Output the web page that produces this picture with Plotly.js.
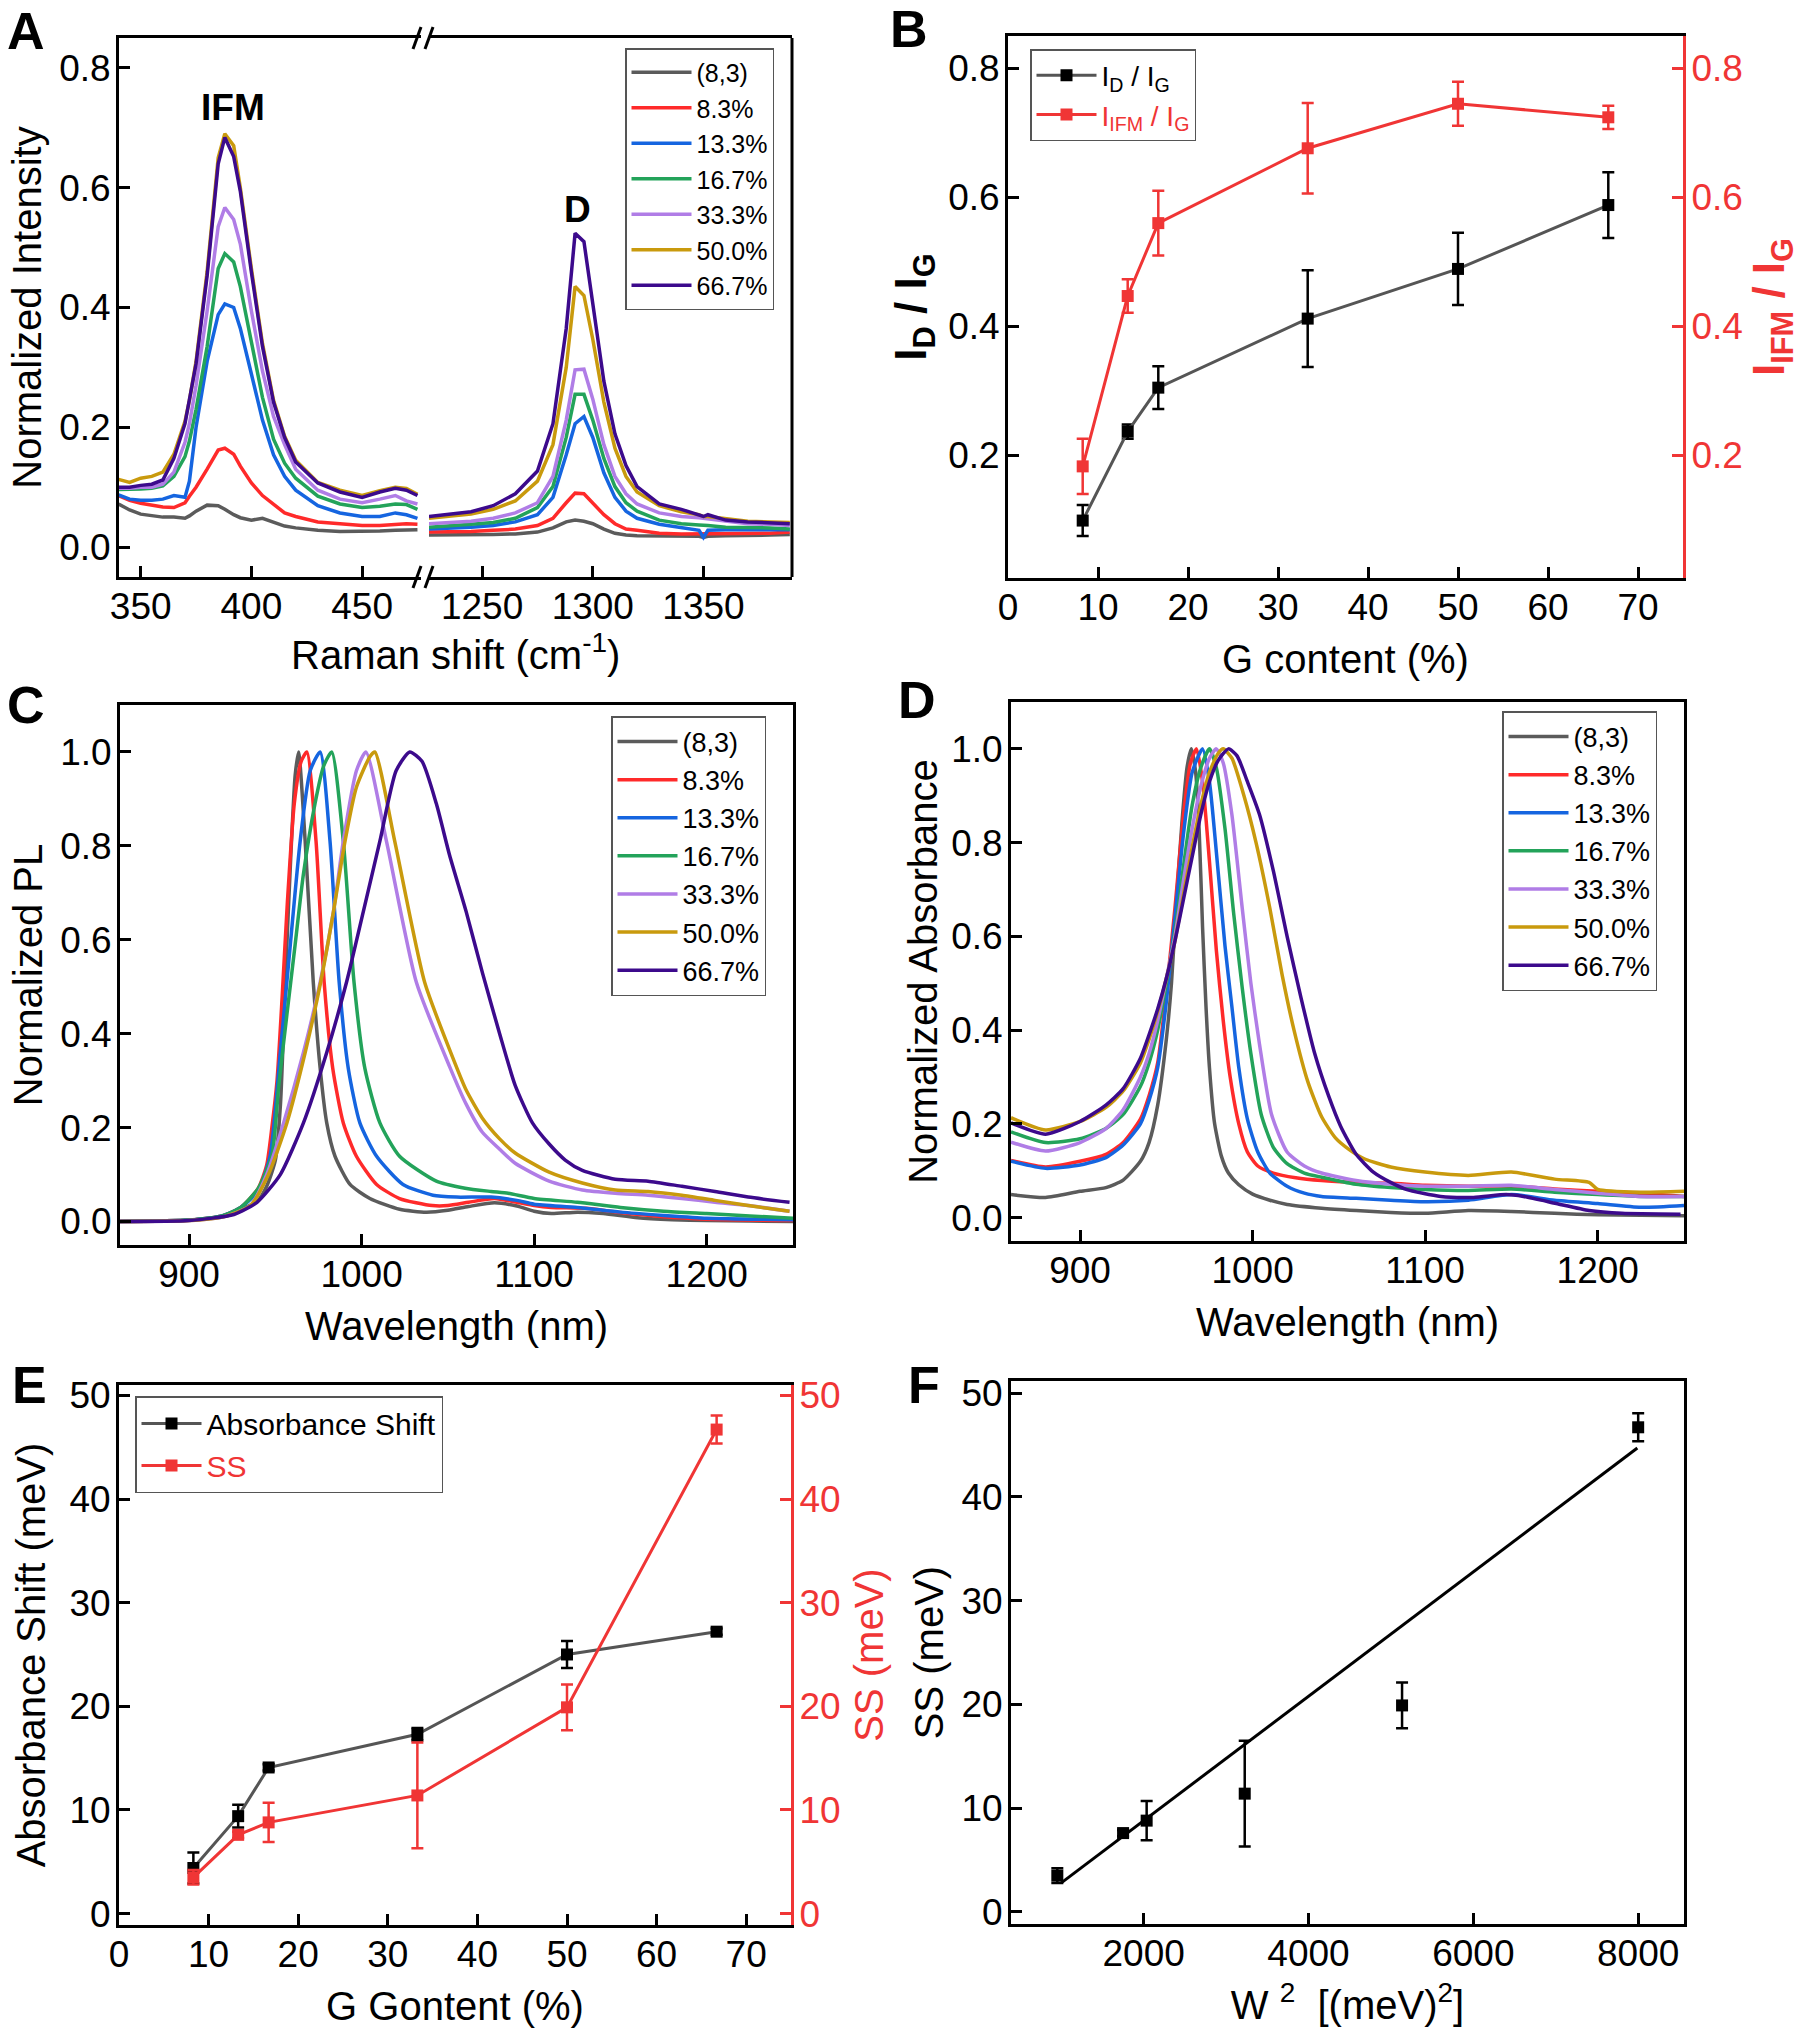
<!DOCTYPE html>
<html><head><meta charset="utf-8">
<script src="https://cdn.plot.ly/plotly-3.0.1.min.js"></script>
<style>html,body{margin:0;padding:0;background:#fff}</style>
</head><body><div id="chart" style="width:1800px;height:2032px"></div>
<script>
// ================= DATA =================
const sampleNames = ['(8,3)','8.3%','13.3%','16.7%','33.3%','50.0%','66.7%'];

// Panel A: Raman (low-frequency IFM region)
const ramanLowX = [340,345,350,355,360,365,370,372,375,380,385,388,392,395,400,405,410,415,420,430,440,450,458,465,470,475];
const ramanLow_83  = [0.072,0.062,0.055,0.052,0.050,0.050,0.048,0.052,0.060,0.070,0.069,0.063,0.054,0.049,0.045,0.048,0.042,0.035,0.032,0.028,0.026,0.026,0.027,0.028,0.028,0.029];
const ramanLow_p8  = [0.086,0.078,0.073,0.070,0.067,0.066,0.074,0.085,0.100,0.130,0.162,0.165,0.155,0.135,0.107,0.086,0.072,0.057,0.051,0.042,0.039,0.036,0.036,0.038,0.039,0.038];
const ramanLow_p13 = [0.087,0.080,0.078,0.078,0.080,0.086,0.083,0.110,0.200,0.310,0.388,0.406,0.400,0.365,0.289,0.212,0.154,0.118,0.095,0.069,0.057,0.051,0.051,0.057,0.054,0.048];
const ramanLow_p17 = [0.096,0.096,0.097,0.098,0.102,0.118,0.151,0.177,0.230,0.335,0.465,0.490,0.476,0.435,0.341,0.250,0.180,0.140,0.115,0.085,0.072,0.066,0.068,0.072,0.071,0.063];
const ramanLow_p33 = [0.098,0.098,0.100,0.100,0.105,0.125,0.175,0.206,0.270,0.394,0.535,0.567,0.547,0.506,0.394,0.294,0.218,0.171,0.130,0.095,0.080,0.074,0.080,0.086,0.077,0.072];
const ramanLow_p50 = [0.113,0.108,0.115,0.118,0.125,0.155,0.210,0.245,0.310,0.460,0.650,0.690,0.670,0.600,0.465,0.340,0.245,0.185,0.145,0.108,0.095,0.086,0.094,0.100,0.098,0.088];
const ramanLow_p67 = [0.100,0.100,0.103,0.105,0.112,0.148,0.206,0.245,0.306,0.453,0.640,0.684,0.652,0.594,0.459,0.335,0.242,0.183,0.142,0.107,0.092,0.083,0.092,0.098,0.095,0.086];

// Panel A: Raman (D band region)
const ramanHighX = [1226,1235,1245,1255,1265,1275,1282,1288,1292,1296,1300,1305,1310,1315,1320,1330,1340,1348,1350,1352,1360,1370,1380,1389];
const ramanHigh_83  = [0.020,0.020,0.020,0.021,0.022,0.025,0.032,0.042,0.045,0.043,0.039,0.030,0.023,0.020,0.019,0.019,0.018,0.018,0.016,0.018,0.019,0.019,0.020,0.021];
const ramanHigh_p8  = [0.025,0.025,0.026,0.028,0.030,0.036,0.048,0.074,0.090,0.089,0.074,0.054,0.039,0.030,0.028,0.023,0.022,0.022,0.022,0.022,0.022,0.023,0.023,0.025];
const ramanHigh_p13 = [0.030,0.031,0.033,0.036,0.042,0.054,0.083,0.154,0.206,0.218,0.183,0.124,0.083,0.060,0.048,0.038,0.032,0.028,0.016,0.028,0.029,0.029,0.029,0.029];
const ramanHigh_p17 = [0.033,0.035,0.038,0.041,0.048,0.066,0.101,0.183,0.255,0.255,0.212,0.148,0.101,0.074,0.060,0.045,0.039,0.037,0.036,0.036,0.033,0.033,0.032,0.030];
const ramanHigh_p33 = [0.039,0.041,0.043,0.048,0.057,0.074,0.118,0.212,0.296,0.297,0.247,0.171,0.118,0.089,0.072,0.057,0.051,0.049,0.048,0.047,0.043,0.039,0.038,0.036];
const ramanHigh_p50 = [0.048,0.051,0.055,0.063,0.077,0.110,0.171,0.300,0.435,0.420,0.347,0.242,0.165,0.118,0.092,0.069,0.059,0.054,0.051,0.051,0.048,0.043,0.042,0.041];
const ramanHigh_p67 = [0.051,0.055,0.059,0.069,0.089,0.127,0.206,0.365,0.524,0.510,0.406,0.277,0.189,0.136,0.101,0.072,0.063,0.054,0.051,0.054,0.045,0.042,0.041,0.039];

// Panel C: normalized PL
const plX_83  = [860,900,920,930,940,945,950,953,956,959,961.5,963.5,967.3,972,976,979.8,984.6,993.3,1004.8,1022,1037.5,1050,1062,1077,1090,1100,1110,1125,1140,1160,1180,1200,1225,1250];
const plY_83  = [0,0.003,0.012,0.025,0.045,0.075,0.13,0.25,0.53,0.78,0.95,1.0,0.81,0.51,0.326,0.21,0.139,0.079,0.049,0.026,0.02,0.024,0.032,0.04,0.033,0.022,0.017,0.02,0.017,0.008,0.004,0.002,0.001,0.0];
const plX_p8  = [860,900,920,930,940,945,948,951,954,957,961,965,968.3,973.6,978.3,983.3,989.4,997,1008.7,1022,1041,1050,1062,1077,1090,1100,1110,1130,1150,1175,1200,1250];
const plY_p8  = [0,0.003,0.013,0.03,0.07,0.12,0.2,0.3,0.48,0.68,0.89,0.98,1.0,0.81,0.51,0.326,0.21,0.139,0.079,0.049,0.034,0.034,0.041,0.049,0.041,0.034,0.030,0.028,0.019,0.010,0.005,0.002];
const plX_p13 = [860,900,920,930,940,947,952.9,958.7,964.4,970.2,976,981.7,987,992.3,999,1008.7,1024,1041.3,1055,1075,1090,1100,1125,1150,1175,1200,1250];
const plY_p13 = [0,0.003,0.013,0.03,0.065,0.14,0.36,0.59,0.81,0.96,1.0,0.81,0.51,0.326,0.21,0.139,0.079,0.056,0.052,0.052,0.045,0.037,0.03,0.02,0.013,0.007,0.004];
const plX_p17 = [860,900,920,930,940,948,952,956.7,961.5,966.3,973,978,982.7,989.4,995.6,1001.9,1010.6,1022,1043.3,1060,1075,1085,1100,1125,1150,1175,1200,1225,1250];
const plY_p17 = [0,0.003,0.013,0.03,0.07,0.14,0.29,0.44,0.59,0.74,0.89,0.97,1.0,0.81,0.51,0.326,0.21,0.139,0.086,0.071,0.064,0.06,0.049,0.041,0.03,0.022,0.017,0.012,0.007];
const plX_p33 = [860,900,920,935.6,945,954.8,966.3,976,983.7,989.4,997,1002.5,1014.4,1031.7,1051,1060.6,1070,1080,1089,1108.7,1127.9,1147,1166,1185.6,1204.8,1224,1248];
const plY_p33 = [0,0.002,0.01,0.034,0.1,0.21,0.36,0.51,0.66,0.81,0.96,1.0,0.81,0.51,0.33,0.25,0.19,0.154,0.124,0.086,0.067,0.06,0.056,0.049,0.041,0.034,0.022];
const plX_p50 = [860,900,920,935.6,946,956.7,967.3,976.3,983.7,990.4,997,1004.8,1007.7,1019.2,1036.5,1053.8,1060.6,1070,1080,1089,1108.7,1127.9,1147,1166,1185.6,1204.8,1224,1248];
const plY_p50 = [0,0.002,0.01,0.034,0.1,0.21,0.36,0.51,0.66,0.81,0.925,0.99,1.0,0.81,0.51,0.34,0.28,0.22,0.176,0.146,0.105,0.082,0.067,0.064,0.056,0.045,0.034,0.022];
const plX_p67 = [860,900,926,939.4,952.9,966.3,979.8,991.3,1001,1010.6,1020,1027.9,1035,1043.3,1051,1060.6,1070,1080,1089,1099,1108.7,1118,1127.9,1147,1166,1185.6,1204.8,1224,1248];
const plY_p67 = [0,0.002,0.015,0.041,0.1,0.21,0.36,0.51,0.66,0.81,0.96,1.0,0.98,0.89,0.78,0.66,0.53,0.40,0.29,0.21,0.165,0.131,0.109,0.09,0.086,0.075,0.064,0.052,0.041];

// Panel D: normalized absorbance
const abX_83  = [860,880,900,915,925,935,940,945,950,953,956,959,962,964.5,967,969,971,973,975,978,982,986,992,1000,1010,1020,1040,1060,1080,1100,1125,1150,1175,1200,1250];
const abY_83  = [0.049,0.043,0.056,0.064,0.08,0.12,0.16,0.24,0.38,0.5,0.68,0.84,0.96,1.0,0.95,0.83,0.62,0.45,0.32,0.2,0.13,0.095,0.07,0.05,0.037,0.028,0.02,0.015,0.011,0.009,0.015,0.013,0.009,0.006,0.004];
const abX_p8  = [860,880,900,915,925,935,940,945,950,955,960,964,967.5,971,975,979,983,987,992,997,1003,1012,1025,1040,1060,1080,1100,1125,1150,1175,1200,1225,1250];
const abY_p8  = [0.122,0.108,0.12,0.135,0.16,0.21,0.26,0.33,0.48,0.66,0.86,0.97,1.0,0.93,0.76,0.57,0.42,0.3,0.2,0.14,0.11,0.095,0.085,0.079,0.075,0.073,0.069,0.067,0.067,0.061,0.056,0.052,0.045];
const abX_p13 = [860,880,900,915,925,935,940,945,950,955,960,965,971,975,979,984,988,992,997,1003,1010,1020,1030,1040,1060,1080,1100,1125,1150,1175,1200,1225,1250];
const abY_p13 = [0.12,0.105,0.112,0.128,0.155,0.2,0.25,0.32,0.46,0.64,0.82,0.95,1.0,0.93,0.78,0.58,0.45,0.32,0.21,0.14,0.095,0.067,0.052,0.045,0.041,0.037,0.034,0.037,0.049,0.037,0.03,0.022,0.026];
const abX_p17 = [860,880,900,915,925,935,940,945,950,955,960,965,970,975,979,984,989,994,999,1005,1012,1020,1030,1040,1060,1080,1100,1125,1150,1175,1200,1225,1250];
const abY_p17 = [0.183,0.16,0.168,0.19,0.22,0.28,0.33,0.4,0.5,0.61,0.75,0.88,0.96,1.0,0.96,0.83,0.65,0.49,0.35,0.22,0.15,0.115,0.095,0.086,0.071,0.064,0.06,0.058,0.061,0.054,0.049,0.045,0.045];
const abX_p33 = [860,880,900,915,925,935,940,945,950,955,960,965,970,975,979,983,988,994,999,1004,1011,1020,1030,1040,1060,1080,1100,1125,1150,1175,1200,1225,1250];
const abY_p33 = [0.161,0.142,0.16,0.19,0.23,0.3,0.35,0.42,0.51,0.6,0.72,0.83,0.92,0.98,1.0,0.97,0.86,0.66,0.5,0.37,0.22,0.14,0.11,0.095,0.079,0.071,0.067,0.067,0.069,0.06,0.052,0.045,0.045];
const abX_p50 = [860,880,900,915,925,935,940,945,950,955,960,965,970,975,980,983,988,995,1002,1010,1017,1024,1032,1040,1048,1056,1065,1080,1100,1125,1150,1175,1195,1200,1225,1250];
const abY_p50 = [0.213,0.187,0.205,0.235,0.27,0.33,0.38,0.44,0.51,0.59,0.69,0.79,0.88,0.95,0.99,1.0,0.98,0.9,0.8,0.66,0.52,0.4,0.29,0.215,0.17,0.145,0.125,0.108,0.097,0.09,0.097,0.082,0.075,0.06,0.054,0.056];
const abX_p67 = [860,880,900,915,925,935,940,945,950,955,960,965,970,975,980,986,991,997,1004,1012,1020,1028,1036,1044,1051,1060,1070,1080,1089,1109,1128,1147,1157,1176,1195,1214,1248];
const abY_p67 = [0.202,0.178,0.205,0.24,0.275,0.34,0.39,0.445,0.51,0.59,0.68,0.77,0.86,0.93,0.975,1.0,0.985,0.93,0.86,0.74,0.6,0.47,0.35,0.26,0.195,0.135,0.097,0.075,0.06,0.045,0.043,0.049,0.045,0.03,0.015,0.009,0.007];

// Panel B
const gContent = [8.3, 13.3, 16.7, 33.3, 50.0, 66.7];
const idOverIg = [0.099, 0.237, 0.305, 0.412, 0.489, 0.588];
const idOverIgErr = [0.024, 0.011, 0.033, 0.075, 0.056, 0.051];
const ifmOverIg = [0.183, 0.447, 0.560, 0.676, 0.745, 0.724];
const ifmOverIgErr = [0.043, 0.026, 0.050, 0.070, 0.034, 0.018];

// Panel E
const absShift = [4.4, 9.4, 14.1, 17.3, 25.0, 27.2];
const absShiftErr = [1.5, 1.1, 0.3, 0.6, 1.3, 0.3];
const stokesShift = [3.5, 7.6, 8.8, 11.4, 19.9, 46.7];
const stokesShiftErr = [0.7, 0.3, 1.9, 5.1, 2.2, 1.35];

// Panel F
const wSquared = [952, 1750, 2036, 3226, 5135, 8000];
const fitW2 = [1000, 7990];
const fitSS = [2.8, 44.7];

// ================= STYLE =================
const FONT = 'Liberation Sans, Arial, Helvetica, sans-serif';
const seriesColors = ['#5b5b5b','#ff2a2a','#1565e0','#23a35a','#b07de6','#c99a0d','#3c0a8c'];
const RED = '#f03535';
const LW = 3.5;
const W = 1800, H = 2032;
const xd = (l, r) => [l / W, r / W];
const yd = (t, b) => [1 - b / H, 1 - t / H];
const px = v => v / W, py = v => 1 - v / H;

const ramanLowSeries = [ramanLow_83, ramanLow_p8, ramanLow_p13, ramanLow_p17, ramanLow_p33, ramanLow_p50, ramanLow_p67];
const ramanHighSeries = [ramanHigh_83, ramanHigh_p8, ramanHigh_p13, ramanHigh_p17, ramanHigh_p33, ramanHigh_p50, ramanHigh_p67];
const plXs = [plX_83, plX_p8, plX_p13, plX_p17, plX_p33, plX_p50, plX_p67];
const plYs = [plY_83, plY_p8, plY_p13, plY_p17, plY_p33, plY_p50, plY_p67];
const abXs = [abX_83, abX_p8, abX_p13, abX_p17, abX_p33, abX_p50, abX_p67];
const abYs = [abY_83, abY_p8, abY_p13, abY_p17, abY_p33, abY_p50, abY_p67];

const traces = [];
sampleNames.forEach((n, i) => {
  traces.push({type:'scatter', mode:'lines', x:ramanLowX, y:ramanLowSeries[i], xaxis:'x', yaxis:'y',
    name:n, legend:'legend', legendgroup:'a'+i, line:{color:seriesColors[i], width:LW}, hoverinfo:'skip'});
});
sampleNames.forEach((n, i) => {
  traces.push({type:'scatter', mode:'lines', x:ramanHighX, y:ramanHighSeries[i], xaxis:'x2', yaxis:'y',
    name:n, showlegend:false, legendgroup:'a'+i, line:{color:seriesColors[i], width:LW}, hoverinfo:'skip'});
});
sampleNames.forEach((n, i) => {
  traces.push({type:'scatter', mode:'lines', x:plXs[i], y:plYs[i], xaxis:'x4', yaxis:'y5',
    name:n, legend:'legend3', line:{color:seriesColors[i], width:LW, shape:'spline', smoothing:0.6}, hoverinfo:'skip'});
});
sampleNames.forEach((n, i) => {
  traces.push({type:'scatter', mode:'lines', x:abXs[i], y:abYs[i], xaxis:'x5', yaxis:'y6',
    name:n, legend:'legend4', line:{color:seriesColors[i], width:LW, shape:'spline', smoothing:0.6}, hoverinfo:'skip'});
});
// B
traces.push({type:'scatter', mode:'lines+markers', x:gContent, y:idOverIg, xaxis:'x3', yaxis:'y3',
  name:'I<sub>D</sub> / I<sub>G</sub>', legend:'legend2',
  line:{color:'#555555', width:3}, marker:{symbol:'square', size:12, color:'#000'},
  error_y:{type:'data', array:idOverIgErr, visible:true, color:'#000', thickness:2.5, width:6}});
traces.push({type:'scatter', mode:'lines+markers', x:gContent, y:ifmOverIg, xaxis:'x3', yaxis:'y4',
  name:'<span style="color:'+RED+'">I<sub>IFM</sub> / I<sub>G</sub></span>', legend:'legend2',
  line:{color:RED, width:3}, marker:{symbol:'square', size:12, color:RED},
  error_y:{type:'data', array:ifmOverIgErr, visible:true, color:RED, thickness:2.5, width:6}});
// E
traces.push({type:'scatter', mode:'lines+markers', x:gContent, y:absShift, xaxis:'x6', yaxis:'y7',
  name:'Absorbance Shift', legend:'legend5',
  line:{color:'#555555', width:3}, marker:{symbol:'square', size:12, color:'#000'},
  error_y:{type:'data', array:absShiftErr, visible:true, color:'#000', thickness:2.5, width:6}});
traces.push({type:'scatter', mode:'lines+markers', x:gContent, y:stokesShift, xaxis:'x6', yaxis:'y8',
  name:'<span style="color:'+RED+'">SS</span>', legend:'legend5',
  line:{color:RED, width:3}, marker:{symbol:'square', size:12, color:RED},
  error_y:{type:'data', array:stokesShiftErr, visible:true, color:RED, thickness:2.5, width:6}});
// F
traces.push({type:'scatter', mode:'lines', x:fitW2, y:fitSS, xaxis:'x7', yaxis:'y9', showlegend:false,
  line:{color:'#000', width:3}});
traces.push({type:'scatter', mode:'markers', x:wSquared, y:stokesShift, xaxis:'x7', yaxis:'y9', showlegend:false,
  marker:{symbol:'square', size:12, color:'#000'},
  error_y:{type:'data', array:stokesShiftErr, visible:true, color:'#000', thickness:2.5, width:6}});

// ================= LAYOUT =================
function ax(extra, color) {
  const c = color || '#000';
  const isX = extra.isX; delete extra.isX;
  const base = {showgrid:false, zeroline:false, showline:true, linecolor:c, linewidth:3,
    ticks:'inside', ticklen:11, tickwidth:2.5, tickcolor:c, ticklabelstandoff: isX ? -5 : -2,
    tickfont:{family:FONT, size:37, color:c},
    minor:{ticks:'inside', ticklen:8, tickwidth:2.5, tickcolor:c, showgrid:false},
    fixedrange:true};
  const out = Object.assign(base, extra);
  if (extra.minor) out.minor = Object.assign(base.minor, extra.minor);
  return out;
}
const tFont = (size, color) => ({family:FONT, size:size || 40, color:color || '#000'});

const legendBase = {xanchor:'left', yanchor:'top', bgcolor:'rgba(255,255,255,0)', bordercolor:'#555',
  borderwidth:1.5, font:{family:FONT, size:27, color:'#000'}, itemwidth:60, tracegroupgap:0, traceorder:'normal'};

const layout = {
  width:W, height:H, margin:{l:0, r:0, t:0, b:0}, paper_bgcolor:'#fff', plot_bgcolor:'rgba(0,0,0,0)',
  font:{family:FONT, color:'#000'}, showlegend:true,
  // ---- A ----
  xaxis: ax({isX:true, domain:xd(119,421), range:[340.2,476.6], anchor:'y', mirror:true, tick0:350, dtick:50,
    minor:{tick0:350, dtick:25}}),
  xaxis2: ax({isX:true, domain:xd(429,792), range:[1226,1390], anchor:'y', mirror:true, tick0:1250, dtick:50,
    minor:{tick0:1250, dtick:25}}),
  yaxis: ax({domain:yd(38,577), range:[-0.05,0.85], anchor:'x', tick0:0, dtick:0.2, tickformat:'.1f',
    minor:{tick0:0, dtick:0.1}, title:{text:'Normalized Intensity', font:tFont(40), standoff:6}}),
  // ---- B ----
  xaxis3: ax({isX:true, domain:xd(1008,1683), range:[0,75], anchor:'y3', mirror:true, tick0:0, dtick:10,
    minor:{tick0:0, dtick:5}, title:{text:'G content (%)', font:tFont(40), standoff:18}}),
  yaxis3: ax({domain:yd(36,578), range:[0.01,0.85], anchor:'x3', tick0:0, dtick:0.2, tickformat:'.1f',
    minor:{tick0:0, dtick:0.1}, title:{text:'<b>I<sub>D</sub> / I<sub>G</sub></b>', font:tFont(44), standoff:8}}),
  yaxis4: ax({range:[0.01,0.85], overlaying:'y3', side:'right', anchor:'x3', tick0:0, dtick:0.2, tickformat:'.1f',
    minor:{tick0:0, dtick:0.1}, title:{text:'<b>I<sub>IFM</sub> / I<sub>G</sub></b>', font:tFont(44, RED), standoff:26}}, RED),
  // ---- C ----
  xaxis4: ax({isX:true, domain:xd(120,793), range:[860,1250], anchor:'y5', mirror:true, tick0:900, dtick:100,
    minor:{tick0:900, dtick:50}, title:{text:'Wavelength (nm)', font:tFont(40), standoff:18}}),
  yaxis5: ax({domain:yd(705,1245), range:[-0.05,1.1], anchor:'x4', mirror:true, tick0:0, dtick:0.2, tickformat:'.1f',
    minor:{tick0:0, dtick:0.1}, title:{text:'Normalized PL', font:tFont(40), standoff:6}}),
  // ---- D ----
  xaxis5: ax({isX:true, domain:xd(1011,1684), range:[860,1250], anchor:'y6', mirror:true, tick0:900, dtick:100,
    minor:{tick0:900, dtick:50}, title:{text:'Wavelength (nm)', font:tFont(40), standoff:18}}),
  yaxis6: ax({domain:yd(702,1241), range:[-0.05,1.1], anchor:'x5', mirror:true, tick0:0, dtick:0.2, tickformat:'.1f',
    minor:{tick0:0, dtick:0.1}, title:{text:'Normalized Absorbance', font:tFont(40), standoff:2}}),
  // ---- E ----
  xaxis6: ax({isX:true, domain:xd(119,791), range:[0,75], anchor:'y7', mirror:true, tick0:0, dtick:10,
    minor:{tick0:0, dtick:5}, title:{text:'G Gontent (%)', font:tFont(40), standoff:18}}),
  yaxis7: ax({domain:yd(1385,1925), range:[-1.1,51], anchor:'x6', tick0:0, dtick:10,
    minor:{tick0:0, dtick:5}, title:{text:'Absorbance Shift (meV)', font:tFont(40), standoff:12}}),
  yaxis8: ax({range:[-1.1,51], overlaying:'y7', side:'right', anchor:'x6', tick0:0, dtick:10,
    minor:{tick0:0, dtick:5}, title:{text:'SS (meV)', font:tFont(40, RED), standoff:16}}, RED),
  // ---- F ----
  xaxis7: ax({isX:true, domain:xd(1011,1684), range:[390,8556], anchor:'y9', mirror:true, tick0:2000, dtick:2000,
    minor:{tick0:0, dtick:1000}, title:{text:'W <sup>2</sup>&nbsp;&nbsp;[(meV)<sup>2</sup>]', font:tFont(40), standoff:18}}),
  yaxis9: ax({domain:yd(1381,1924), range:[-1.16,51.16], anchor:'x7', mirror:true, tick0:0, dtick:10,
    minor:{tick0:0, dtick:5}, title:{text:'SS (meV)', font:tFont(40), standoff:6}}),

  legend:  Object.assign({}, legendBase, {x:px(625), y:py(48), font:{family:FONT, size:25, color:'#000'}}),
  legend2: Object.assign({}, legendBase, {x:px(1030), y:py(49), font:{family:FONT, size:28, color:'#000'}}),
  legend3: Object.assign({}, legendBase, {x:px(611), y:py(716)}),
  legend4: Object.assign({}, legendBase, {x:px(1502), y:py(711)}),
  legend5: Object.assign({}, legendBase, {x:px(135), y:py(1396), font:{family:FONT, size:30, color:'#000'}}),

  shapes: [
    // right frame edge of panel A (split axis)
    {type:'line', xref:'paper', yref:'paper', x0:px(792), x1:px(792), y0:py(38), y1:py(577), line:{color:'#000', width:3}},
    // axis break marks
    {type:'line', xref:'paper', yref:'paper', x0:px(413), x1:px(421), y0:py(49), y1:py(27), line:{color:'#000', width:3}},
    {type:'line', xref:'paper', yref:'paper', x0:px(425), x1:px(433), y0:py(49), y1:py(27), line:{color:'#000', width:3}},
    {type:'line', xref:'paper', yref:'paper', x0:px(413), x1:px(421), y0:py(588), y1:py(566), line:{color:'#000', width:3}},
    {type:'line', xref:'paper', yref:'paper', x0:px(425), x1:px(433), y0:py(588), y1:py(566), line:{color:'#000', width:3}}
  ],
  annotations: [
    {text:'<b>A</b>', x:px(26), y:py(31)},
    {text:'<b>B</b>', x:px(909), y:py(29)},
    {text:'<b>C</b>', x:px(26), y:py(705)},
    {text:'<b>D</b>', x:px(917), y:py(700)},
    {text:'<b>E</b>', x:px(29), y:py(1385)},
    {text:'<b>F</b>', x:px(924), y:py(1385)}
  ].map(a => Object.assign({xref:'paper', yref:'paper', showarrow:false, xanchor:'center', yanchor:'middle',
      font:{family:FONT, size:52, color:'#000'}}, a)).concat([
    {text:'<b>IFM</b>', x:px(233), y:py(107), xref:'paper', yref:'paper', showarrow:false, xanchor:'center', yanchor:'middle',
      font:{family:FONT, size:37, color:'#000'}},
    {text:'<b>D</b>', x:px(577), y:py(209), xref:'paper', yref:'paper', showarrow:false, xanchor:'center', yanchor:'middle',
      font:{family:FONT, size:37, color:'#000'}},
    {text:'Raman shift (cm<sup>-1</sup>)', x:px(455), y:py(652), xref:'paper', yref:'paper', showarrow:false,
      xanchor:'center', yanchor:'middle', font:{family:FONT, size:40, color:'#000'}}
  ])
};

Plotly.newPlot('chart', traces, layout, {displayModeBar:false, responsive:false});
</script>
</body></html>
